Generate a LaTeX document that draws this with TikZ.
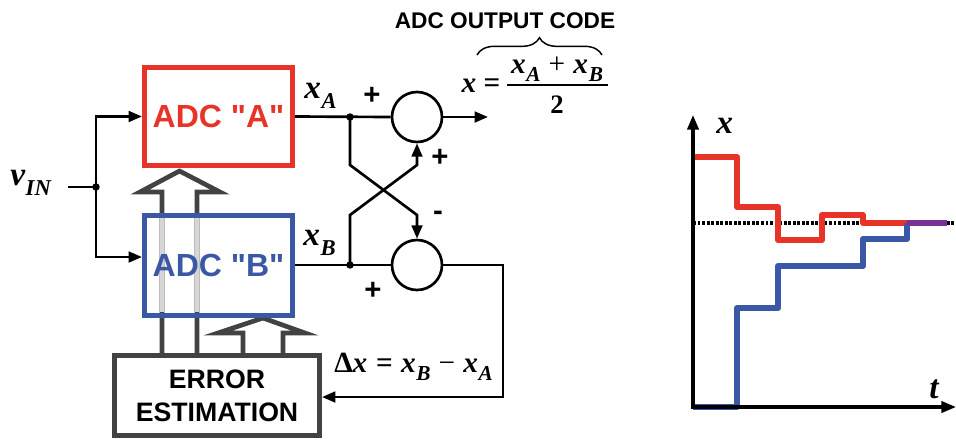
\documentclass[tikz,border=0pt]{standalone}
\usepackage{fontspec}
\setmainfont{Liberation Serif}
\newfontfamily\sansf{Liberation Sans}
\usetikzlibrary{arrows.meta,decorations.pathreplacing}
\definecolor{adcred}{RGB}{232,52,40}
\definecolor{adcblue}{RGB}{58,88,166}
\definecolor{dgray}{RGB}{66,66,66}
\definecolor{lgray}{RGB}{214,214,214}
\definecolor{adcpurple}{RGB}{122,48,150}
\newcommand\fs[1]{\fontsize{#1}{#1}\selectfont}
\newcommand\vx[5]{{\fs{#1}\bfseries\itshape #2\kern0.5pt\raisebox{-#5pt}{\fs{#3}#4}}}
\tikzset{
  wire/.style={line width=2pt, black},
  tip/.style={-{Triangle[length=10pt,width=8pt]}},
  blockbox/.style={draw, line width=3.75pt, inner sep=0pt, font=\sansf\bfseries\fs{24}},
  hollow/.style={draw=dgray, line width=3.5pt, line join=miter},
  sumnode/.style={circle, draw, line width=2pt, minimum size=37.5pt, inner sep=0pt},
  sign/.style={font=\sansf\bfseries\fs{22}, inner sep=0pt},
  stepline/.style={line width=4.4pt, line join=round},
}
\begin{document}
\begin{tikzpicture}[x=0.75pt,y=-0.75pt]
\useasboundingbox (0,0) rectangle (956,440);

% hollow arrows (drawn first)
\draw[hollow] (162,355) -- (162,192) -- (140,192) -- (179.5,171) -- (220,192) -- (197,192) -- (197,355);
\draw[lgray, line width=3.5pt] (162,218) -- (162,312);
\draw[lgray, line width=3.5pt] (197,218) -- (197,312);
\draw[hollow] (243,355) -- (243,333) -- (218,333) -- (263,318) -- (305,333) -- (283,333) -- (283,355);

% blocks
\node[blockbox, draw=adcred, text=adcred, minimum width=111pt, minimum height=73.5pt] (A) at (218.5,116.5) {ADC "A"};
\node[blockbox, draw=adcblue, text=adcblue, minimum width=111pt, minimum height=75pt] (B) at (218.5,265) {ADC "B"};
\node[blockbox, draw=dgray, text=black, minimum width=153.75pt, minimum height=60pt, align=center, font=\sansf\bfseries\fontsize{20}{25}\selectfont] (E) at (217,395.5) {ERROR\\ESTIMATION};

% summers
\node[sumnode] (sA) at (417,117) {};
\node[sumnode] (sB) at (417,265) {};

% junctions
\coordinate (vs) at (68,187);
\coordinate (vj) at (96,187);
\coordinate (jA) at (350,117);
\coordinate (jB) at (350,265);
\coordinate (out) at (488,117);

% labels
\node[anchor=base west, inner sep=0pt] (vin) at (10,185) {\vx{25}{v}{17}{IN}{7.5}};
\node[anchor=base west, inner sep=0pt] (xA) at (304,98) {\vx{25}{x}{17}{A}{7.5}};
\node[anchor=base west, inner sep=0pt] (xB) at (303,245) {\vx{25}{x}{17}{B}{7.5}};
\node[sign] (p1) at (372,96) {+};
\node[sign] (p2) at (440,158) {+};
\node[sign] (m1) at (438,216) {-};
\node[sign] (p3) at (373,291) {+};
\node[anchor=base west, inner sep=0pt] (dx) at (334,372) {{\fs{22}\bfseries Δ}\vx{22}{x}{16}{}{0}{\fs{22}\bfseries\;=\;}\vx{22}{x}{16}{B}{6}{\fs{22}\;−\;}\vx{22}{x}{16}{A}{6}};

% wires
\draw[wire] (vs) -- (vj);
\draw[wire, tip] (vj) |- (A.west);
\draw[wire, tip] (vj) |- ([yshift=6pt]B.west);
\draw[wire] (A.east) -- (sA.west);
\draw[wire] (B.east) -- (sB.west);
\draw[wire, tip] (sA.east) -- (out);
\draw[wire, tip] (jA) -- (350,165) -- (417,215) -- (sB.north);
\draw[wire, tip] (jB) -- (350,215) -- (417,165) -- (sA.south);
\draw[wire, tip] (sB.east) -- (503,265) -- (503,397) -- (E.east |- 0,397);
\fill (vj) circle (2.8pt);
\fill (jA) circle (2.8pt);
\fill (jB) circle (2.8pt);

% output code
\node[font=\sansf\bfseries\fs{17}] (title) at (505,21) {ADC OUTPUT CODE};
\draw[line width=1.1pt, decorate, decoration={brace, amplitude=13pt}] (477,55) -- (602,55);
\node[anchor=base, inner sep=0pt] (fx) at (469,92) {\fs{22}\bfseries\itshape x};
\node[anchor=base, inner sep=0pt] (feq) at (492,92) {\fs{22}\bfseries =};
\node[anchor=base, inner sep=0pt] (fnum) at (557,73) {\vx{22}{x}{16}{A}{6}{\fs{22}\;+\;}\vx{22}{x}{16}{B}{6}};
\draw[line width=1.2pt] (507,85) -- (608,85);
\node[anchor=base, inner sep=0pt] (fden) at (557,113) {\fs{20}\bfseries 2};

% graph
\draw[dash pattern=on 2.2pt off 1.2pt, line width=2.4pt] (693,223) -- (956,223);
\draw[stepline, adcred] (693,157) -| (737,207) -| (778,240) -| (822,215) -| (863,223) -- (907,223);
\draw[stepline, adcblue] (693,407) -| (737,308) -| (778,266) -| (863,239) -| (907,223);
\draw[stepline, adcpurple] (907,223) -- (947,223);
\draw[line width=2.3pt, -{Triangle[length=11pt,width=8.5pt]}] (693,408) -- (693,115);
\draw[line width=2.3pt, -{Triangle[length=11pt,width=8.5pt]}] (691,407) -- (956,407);
\node[anchor=base west, inner sep=0pt] (gx) at (716,133) {\fs{25}\bfseries\itshape x};
\node[anchor=base west, inner sep=0pt] (gt) at (929,398) {\fs{25}\bfseries\itshape t};
\end{tikzpicture}
\end{document}
